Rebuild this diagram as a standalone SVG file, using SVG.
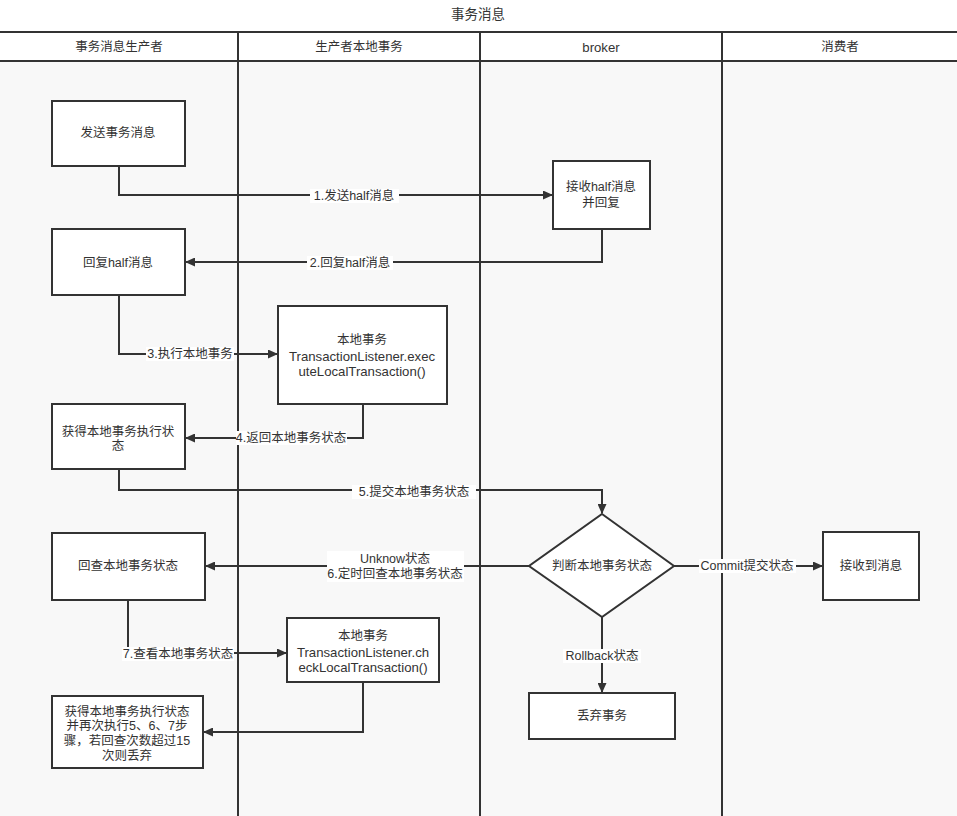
<svg xmlns="http://www.w3.org/2000/svg" width="957" height="816" viewBox="0 0 957 816">
<defs>
<style>
text{font-family:"Liberation Sans","Noto Sans CJK SC",sans-serif;font-size:12.5px;fill:#333;text-anchor:middle;dominant-baseline:central}
.lat{font-size:13.2px}
.box{fill:#fff;stroke:#333;stroke-width:2}
.ln{fill:none;stroke:#333;stroke-width:2}
.edge{fill:none;stroke:#333;stroke-width:2;marker-end:url(#arr)}
.lbg{fill:#fff}
</style>
<marker id="arr" viewBox="0 0 10 9" refX="9" refY="4.5" markerWidth="10" markerHeight="9" markerUnits="userSpaceOnUse" orient="auto">
<path d="M0,0 L10,4.5 L0,9 z" fill="#333"/>
</marker>
</defs>
<rect x="0" y="0" width="957" height="816" fill="#fff"/>
<rect x="0" y="61" width="957" height="755" fill="#f8f8f8"/>
<text x="478" y="14" style="font-size:13.5px">事务消息</text>
<g id="lanes">
<line class="ln" x1="0" y1="32" x2="957" y2="32"/>
<line class="ln" x1="0" y1="61" x2="957" y2="61"/>
<line class="ln" x1="238" y1="32" x2="238" y2="816"/>
<line class="ln" x1="480" y1="32" x2="480" y2="816"/>
<line class="ln" x1="722" y1="32" x2="722" y2="816"/>
<text x="119" y="47">事务消息生产者</text>
<text x="359" y="47">生产者本地事务</text>
<text x="601" y="47" class="lat">broker</text>
<text x="840" y="47">消费者</text>
</g>
<g id="connectors">
<path class="edge" d="M119,166 V195 H552"/>
<path class="edge" d="M602,229 V262 H186"/>
<path class="edge" d="M119,295 V354 H277"/>
<path class="edge" d="M363,404 V438 H186"/>
<path class="edge" d="M119,469 V490 H602 V513"/>
<path class="edge" d="M529,566 H206"/>
<path class="edge" d="M674,566 H822"/>
<path class="edge" d="M602,617 V692"/>
<path class="edge" d="M128,600 V653 H286"/>
<path class="edge" d="M363,682 V732 H204"/>
<rect class="lbg" x="310" y="189" width="89" height="14"/>
<text x="354" y="196">1.发送half消息</text>
<rect class="lbg" x="307" y="256" width="86" height="14"/>
<text x="350" y="263">2.回复half消息</text>
<rect class="lbg" x="146" y="347" width="88" height="14"/>
<text x="190" y="354">3.执行本地事务</text>
<rect class="lbg" x="236" y="431" width="111" height="14"/>
<text x="291" y="438">4.返回本地事务状态</text>
<rect class="lbg" x="352" y="485" width="124" height="14"/>
<text x="414" y="492">5.提交本地事务状态</text>
<rect class="lbg" x="327" y="551" width="137" height="31"/>
<text x="395" y="559">Unknow状态</text>
<text x="395" y="574">6.定时回查本地事务状态</text>
<rect class="lbg" x="699" y="559" width="97" height="14"/>
<text x="747" y="566">Commit提交状态</text>
<rect class="lbg" x="563" y="649" width="78" height="14"/>
<text x="602" y="656">Rollback状态</text>
<rect class="lbg" x="122" y="647" width="112" height="14"/>
<text x="178" y="654">7.查看本地事务状态</text>
</g>
<g id="n1"><rect class="box" x="52" y="101" width="133" height="65"/><text x="118" y="133">发送事务消息</text></g>
<g id="n2"><rect class="box" x="553" y="161" width="97" height="68"/><text x="601" y="187">接收half消息</text><text x="601" y="203">并回复</text></g>
<g id="n3"><rect class="box" x="52" y="229" width="133" height="66"/><text x="118" y="263">回复half消息</text></g>
<g id="n4"><rect class="box" x="278" y="306" width="169" height="98"/><text x="362" y="340">本地事务</text><text x="362" y="356" class="lat">TransactionListener.exec</text><text x="362" y="371" class="lat">uteLocalTransaction()</text></g>
<g id="n5"><rect class="box" x="52" y="404" width="133" height="65"/><text x="118" y="432">获得本地事务执行状</text><text x="118" y="446">态</text></g>
<g id="n6"><path class="box" d="M602,514 L674,566 L602,617 L529,566 Z"/><text x="602" y="566">判断本地事务状态</text></g>
<g id="n7"><rect class="box" x="823" y="532" width="96" height="68"/><text x="871" y="566">接收到消息</text></g>
<g id="n8"><rect class="box" x="52" y="533" width="153" height="67"/><text x="128" y="566">回查本地事务状态</text></g>
<g id="n9"><rect class="box" x="287" y="618" width="152" height="64"/><text x="363" y="636">本地事务</text><text x="363" y="652" class="lat">TransactionListener.ch</text><text x="363" y="667" class="lat">eckLocalTransaction()</text></g>
<g id="n10"><rect class="box" x="529" y="693" width="146" height="46"/><text x="602" y="716">丢弃事务</text></g>
<g id="n11"><rect class="box" x="52" y="696" width="151" height="72"/><text x="127" y="712">获得本地事务执行状态</text><text x="127" y="726">并再次执行5、6、7步</text><text x="127" y="741">骤，若回查次数超过15</text><text x="127" y="756">次则丢弃</text></g>
</svg>
